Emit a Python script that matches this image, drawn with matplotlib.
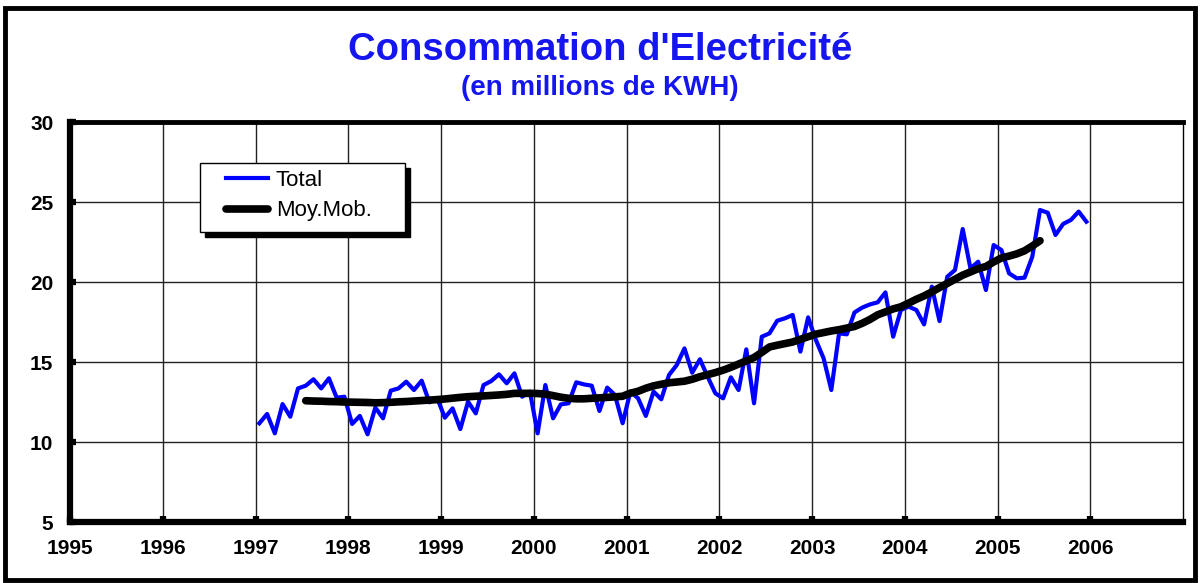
import matplotlib
matplotlib.use("Agg")
import matplotlib.pyplot as plt
from matplotlib.patches import Rectangle
import numpy as np

# ---- data ----
start_year = 1997
total = [
    11.17, 11.75, 10.54, 12.37, 11.58, 13.35, 13.52, 13.92, 13.35, 13.98, 12.77, 12.83,   # 1997
    11.13, 11.63, 10.48, 12.15, 11.48, 13.21, 13.35, 13.77, 13.25, 13.83, 12.48, 12.75,   # 1998
    11.52, 12.10, 10.81, 12.52, 11.79, 13.56, 13.81, 14.23, 13.67, 14.29, 12.83, 13.15,   # 1999
    10.54, 13.56, 11.48, 12.35, 12.42, 13.73, 13.60, 13.52, 11.94, 13.40, 12.94, 11.17,   # 2000
    13.15, 12.73, 11.63, 13.15, 12.67, 14.19, 14.81, 15.85, 14.33, 15.17, 14.08, 13.04,   # 2001
    12.73, 14.04, 13.25, 15.79, 12.42, 16.58, 16.79, 17.58, 17.73, 17.94, 15.65, 17.79,   # 2002
    16.38, 15.23, 13.25, 16.79, 16.73, 18.10, 18.40, 18.60, 18.73, 19.35, 16.58, 18.25,   # 2003
    18.46, 18.25, 17.35, 19.71, 17.56, 20.33, 20.75, 23.31, 20.85, 21.27, 19.50, 22.31,   # 2004
    22.00, 20.54, 20.23, 20.27, 21.58, 24.50, 24.33, 22.94, 23.63, 23.88, 24.40, 23.77,   # 2005
]
ma_first_index = 6
moy_mob = [
    12.58, 12.56, 12.55, 12.53, 12.52, 12.50, 12.49, 12.48, 12.47, 12.45, 12.46, 12.48,
    12.51, 12.53, 12.56, 12.59, 12.62, 12.65, 12.69, 12.74, 12.79, 12.83, 12.86, 12.88,
    12.91, 12.94, 12.98, 13.04, 13.04, 13.04, 13.03, 12.99, 12.90, 12.80, 12.73, 12.70,
    12.70, 12.73, 12.76, 12.79, 12.82, 12.86, 13.05, 13.17, 13.36, 13.51, 13.61, 13.70,
    13.75, 13.80, 13.92, 14.08, 14.21, 14.34, 14.49, 14.67, 14.87, 15.07, 15.28, 15.60,
    15.94, 16.05, 16.15, 16.25, 16.42, 16.58, 16.74, 16.84, 16.94, 17.02, 17.12, 17.22,
    17.42, 17.66, 17.95, 18.13, 18.32, 18.45, 18.68, 18.92, 19.13, 19.38, 19.65, 19.91,
    20.17, 20.43, 20.63, 20.83, 20.97, 21.25, 21.50, 21.62, 21.76, 21.95, 22.25, 22.58,
]
year_ticks = list(range(1995, 2007))
y_ticks = [5, 10, 15, 20, 25, 30]
title = "Consommation d'Electricité"
subtitle = "(en millions de KWH)"
labels = ["Total", "Moy.Mob."]

# monthly positions (centre of each month)
x_total = [start_year + (i + 0.5) / 12 for i in range(len(total))]
x_ma = [start_year + (i + ma_first_index + 0.5) / 12 for i in range(len(moy_mob))]

plt.rcParams['font.family'] = ['Liberation Sans', 'DejaVu Sans']

W, H = 1201, 583
AX_L, AX_R, AX_T, AX_B = 70, 1183, 122, 522
fig = plt.figure(figsize=(W / 100, H / 100), dpi=100)
ax = fig.add_axes([AX_L / W, (H - AX_B) / H, (AX_R - AX_L) / W, (AX_B - AX_T) / H])


def axc(px, py):
    """pixel position -> axes fraction (for decorations only)"""
    return (px - AX_L) / (AX_R - AX_L), 1 - (py - AX_T) / (AX_B - AX_T)


ax.plot(x_total, total, color='#0000FF', lw=3.0, label=labels[0], zorder=3,
        solid_joinstyle='round')
ax.plot(x_ma, moy_mob, color='black', lw=5.5, label=labels[1], zorder=4,
        solid_capstyle='round', solid_joinstyle='round')

ax.set_xlim(1995, 2007)
ax.set_ylim(5, 30)
ax.set_xticks(year_ticks)
ax.set_xticklabels([str(y) for y in year_ticks])
ax.set_yticks(y_ticks)
ax.grid(True, color='#222222', lw=1.0, zorder=0)

for s in ['left', 'bottom']:
    ax.spines[s].set_linewidth(4.5)
ax.spines['top'].set_linewidth(3.5)
ax.spines['right'].set_linewidth(1.0)

ax.tick_params(axis='both', direction='in', length=4, width=4.5, labelsize=15)
for lab in ax.get_xticklabels() + ax.get_yticklabels():
    lab.set_fontweight('bold')
ax.tick_params(axis='x', pad=12)
ax.tick_params(axis='y', pad=12)

# legend box with drop shadow
x0, y0 = axc(200, 232)
x1, y1 = axc(405, 163)
sx, sy = axc(205, 237)
ax.add_patch(Rectangle((sx, sy), x1 - x0, y1 - y0, transform=ax.transAxes,
                       facecolor='black', edgecolor='black', zorder=5))
ax.add_patch(Rectangle((x0, y0), x1 - x0, y1 - y0, transform=ax.transAxes,
                       facecolor='white', edgecolor='black', lw=1.0, zorder=6))
leg = ax.legend(loc='upper left', bbox_to_anchor=axc(226, 170),
                frameon=False, fontsize=16, handlelength=1.9, handletextpad=0.35,
                borderpad=0, labelspacing=0.42, borderaxespad=0)
leg.set_zorder(7)

fig.text(600 / W, 1 - 50 / H, title, color='#1515F0', fontsize=27.5, fontweight='bold',
         ha='center', va='center')
fig.text(600 / W, 1 - 88 / H, subtitle, color='#1515F0', fontsize=20, fontweight='bold',
         ha='center', va='center')

fig.patches.append(Rectangle((5 / W, 3 / H), 1190 / W, 572 / H, transform=fig.transFigure,
                             fill=False, edgecolor='black', lw=3.5))

fig.savefig('out.png', dpi=100)
